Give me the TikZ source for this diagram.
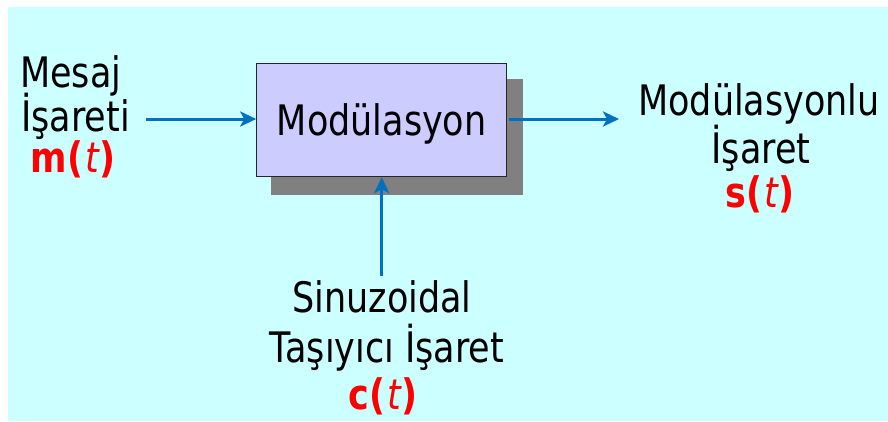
\documentclass[tikz,border=0pt]{standalone}
\usepackage{fontspec}
\setmainfont{DejaVu Sans}[FakeStretch=0.833]
\usetikzlibrary{arrows.meta,backgrounds}
\definecolor{bgcyan}{RGB}{204,255,255}
\definecolor{boxfill}{RGB}{204,204,255}
\definecolor{arrblue}{RGB}{0,112,192}
\definecolor{sigred}{RGB}{255,0,0}
\definecolor{shadowgray}{RGB}{128,128,128}
\newcommand{\sigt}{\hspace{2pt}{\mdseries\itshape t}}
\begin{document}
\begin{tikzpicture}[x=1pt,y=-1pt,
  lbl/.style={inner sep=0pt, font=\fontsize{42}{44}\selectfont, text=black},
  sig/.style={inner sep=0pt, font=\fontsize{42}{44}\selectfont\bfseries, text=sigred},
  conn/.style={draw=arrblue, line width=3pt, -{Stealth[length=16pt,width=15pt,inset=4pt]}},
  block/.style={draw=black!85, line width=1pt, fill=boxfill, minimum width=250pt,
    minimum height=112.7pt, inner sep=0pt, font=\fontsize{42}{44}\selectfont,
    text height=30.5pt, text depth=0pt}]
\useasboundingbox (0,0) rectangle (888,421);
% block
\node[block] (mod) at (381.7,120.3) {Modülasyon};
% background and shadow
\begin{scope}[on background layer]
  \fill[white] (0,0) rectangle (888,421);
  \fill[bgcyan] (8,7) rectangle (888,421);
  \fill[shadowgray] ([shift={(15,16)}]mod.north west) rectangle ([shift={(16,18)}]mod.south east);
\end{scope}
% input label
\node[lbl, anchor=base west] (in1) at (20,87) {Mesaj};
\node[lbl, anchor=base west] (in2) at (21,131) {İşareti};
\node[sig, anchor=base] (in3) at (73,172) {m(\sigt)};
% output label
\node[lbl, anchor=base] (out1) at (759,115) {Modülasyonlu};
\node[lbl, anchor=base] (out2) at (761,163) {İşaret};
\node[sig, anchor=base] (out3) at (760,207) {s(\sigt)};
% carrier label
\node[lbl, anchor=base] (car1) at (382,312) {Sinuzoidal};
\node[lbl, anchor=base] (car2) at (387,362) {Taşıyıcı İşaret};
\node[sig, anchor=base] (car3) at (383,409) {c(\sigt)};
% connectors
\coordinate (inA) at (146,119);
\coordinate (outB) at (619,119);
\coordinate (carA) at (381.7,276);
\draw[conn] (inA) -- (inA -| mod.west);
\draw[conn] ([xshift=2pt]mod.east |- outB) -- (outB);
\draw[conn] (carA) -- (mod.south);
\end{tikzpicture}
\end{document}
